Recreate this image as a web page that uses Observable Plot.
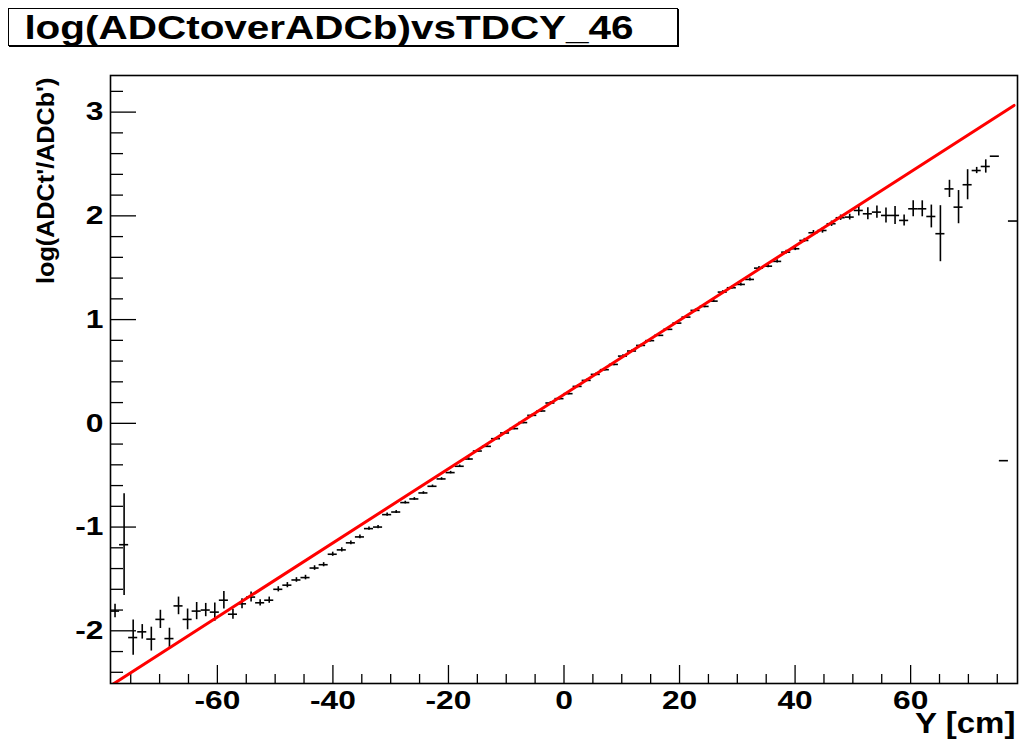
<!DOCTYPE html>
<html><head><meta charset="utf-8">
<script src="https://cdn.jsdelivr.net/npm/d3@7"></script>
<script src="https://cdn.jsdelivr.net/npm/@observablehq/plot@0.6"></script>
<style>
html,body{margin:0;padding:0;background:#fff;}
#head{position:relative;width:1021px;height:52px;}
#title{position:absolute;left:8px;top:8px;width:668px;height:36px;border:1px solid #000;box-shadow:1px 1px 0 #000;font-family:"Liberation Sans",Arial,sans-serif;font-weight:bold;font-size:34px;color:#000;overflow:hidden;}
#title span{position:absolute;left:320px;top:50%;transform:translate(-50%,-50%) scaleX(1.19);white-space:nowrap;line-height:1;}
#chart svg{display:block;}
</style></head><body>
<div id="head"><div id="title"><span id="titletext"></span></div></div>
<div id="chart"></div>
<script>
const titleText = "log(ADCtoverADCb)vsTDCY_46";
const xLabel = "Y [cm]";
const yLabel = "log(ADCt'/ADCb')";

// histogram binning: 100 bins from -78.5 to 78.5
const binLow = -78.5;
const binWidth = 1.57;

const values = [
  -1.81, -1.17, -2.065, -2.01, -2.08, -1.89, -2.075, -1.76, -1.89, -1.81,
  -1.80, -1.82, -1.705, -1.84, -1.74, -1.675, -1.73, -1.705, -1.60, -1.56,
  -1.51, -1.487, -1.395, -1.363, -1.262, -1.22, -1.152, -1.095, -1.015, -1.0,
  -0.88, -0.855, -0.764, -0.729, -0.671, -0.607, -0.536, -0.475, -0.414, -0.344,
  -0.267, -0.222, -0.148, -0.093, -0.051, 0.007, 0.077, 0.119, 0.196, 0.238,
  0.286, 0.356, 0.414, 0.472, 0.517, 0.568, 0.648, 0.697, 0.751, 0.797,
  0.848, 0.906, 0.966, 1.024, 1.089, 1.127, 1.178, 1.265, 1.307, 1.339,
  1.387, 1.496, 1.515, 1.561, 1.65, 1.683, 1.763, 1.837, 1.859, 1.924,
  1.982, 1.988, 2.052, 2.02, 2.036, 2.004, 2.004, 1.956, 2.068, 2.068,
  1.994, 1.828, 2.26, 2.084, 2.30, 2.437, 2.476, 2.575, -0.36, 1.95
];
const errors = [
  0.065, 0.49, 0.17, 0.07, 0.115, 0.088, 0.10, 0.085, 0.10, 0.083,
  0.064, 0.088, 0.085, 0.048, 0.048, 0.048, 0.03, 0.03, 0.025, 0.025,
  0.022, 0.022, 0.022, 0.02, 0.02, 0.02, 0.018, 0.018, 0.016, 0.016,
  0.015, 0.014, 0.013, 0.013, 0.012, 0.012, 0.012, 0.012, 0.012, 0.012,
  0.012, 0.012, 0.012, 0.012, 0.012, 0.012, 0.012, 0.012, 0.012, 0.012,
  0.012, 0.012, 0.012, 0.012, 0.012, 0.012, 0.012, 0.012, 0.012, 0.012,
  0.012, 0.012, 0.012, 0.013, 0.013, 0.013, 0.013, 0.014, 0.014, 0.014,
  0.015, 0.015, 0.016, 0.016, 0.018, 0.018, 0.02, 0.022, 0.026, 0.026,
  0.026, 0.028, 0.053, 0.058, 0.058, 0.072, 0.087, 0.053, 0.077, 0.077,
  0.11, 0.27, 0.083, 0.16, 0.145, 0.03, 0.064, 0.0, 0.0, 0.0
];

// linear fit p0 + p1*x over the fit range
const fitIntercept = 0.278;
const fitSlope = 0.03577;
const fitRange = [-78.5, 77.9];

const xDomain = [-78.5, 78.5];
const yDomain = [-2.508, 3.353];
const xMajorTicks = [-60, -40, -20, 0, 20, 40, 60];
const xMinorTicks = [-75, -70, -65, -55, -50, -45, -35, -30, -25, -15, -10, -5, 5, 10, 15, 25, 30, 35, 45, 50, 55, 65, 70, 75];
const yMajorTicks = [-2, -1, 0, 1, 2, 3];
const yMinorTicks = [-2.4, -2.2, -1.8, -1.6, -1.4, -1.2, -0.8, -0.6, -0.4, -0.2, 0.2, 0.4, 0.6, 0.8, 1.2, 1.4, 1.6, 1.8, 2.2, 2.4, 2.6, 2.8, 3.2];

document.getElementById("titletext").textContent = titleText;

const bins = values.map((v, i) => ({
  x: binLow + binWidth * (i + 0.5),
  xl: binLow + binWidth * i,
  xr: binLow + binWidth * (i + 1),
  v,
  lo: v - errors[i],
  hi: v + errors[i]
}));
const fitPts = fitRange.map(x => ({x, y: fitIntercept + fitSlope * x}));

const W = 1021, H = 693;
const mL = 110, mR = 4, mT = 23, mB = 62;
const fw = W - mL - mR, fh = H - mT - mB;

const chart = Plot.plot({
  width: W, height: H,
  marginLeft: mL, marginRight: mR, marginTop: mT, marginBottom: mB,
  x: {domain: xDomain, axis: null},
  y: {domain: yDomain, axis: null},
  style: {fontFamily: "'Liberation Sans', Arial, sans-serif", fontWeight: "bold", background: "white", color: "black"},
  marks: [
    Plot.ruleX(xMajorTicks, {x: d => d, insetTop: fh - 18, stroke: "black", strokeWidth: 1.3}),
    Plot.ruleX(xMinorTicks, {x: d => d, insetTop: fh - 9, stroke: "black", strokeWidth: 1.3}),
    Plot.ruleY(yMajorTicks, {y: d => d, insetRight: fw - 26, stroke: "black", strokeWidth: 1.3}),
    Plot.ruleY(yMinorTicks, {y: d => d, insetRight: fw - 13, stroke: "black", strokeWidth: 1.3}),
    Plot.axisX({ticks: xMajorTicks, tickSize: 0, tickPadding: 7, tickFormat: d => String(d), fontSize: 26, fontWeight: "bold", label: null}),
    Plot.axisY({ticks: yMajorTicks, tickSize: 0, tickPadding: 7, tickFormat: d => String(d), fontSize: 26, fontWeight: "bold", label: null}),
    Plot.ruleX(bins, {x: "x", y1: "lo", y2: "hi", stroke: "black", strokeWidth: 1.6}),
    Plot.ruleY(bins, {y: "v", x1: "xl", x2: "xr", stroke: "black", strokeWidth: 1.6}),
    Plot.line(fitPts, {x: "x", y: "y", stroke: "#ff0000", strokeWidth: 3, clip: true}),
    Plot.frame({stroke: "black", strokeWidth: 1.6}),
    Plot.text([yLabel], {frameAnchor: "top-left", rotate: -90, textAnchor: "end", dx: -74, dy: 2, fontSize: 24, fontWeight: "bold", fill: "black"}),
    Plot.text([xLabel], {frameAnchor: "bottom-right", textAnchor: "end", dx: -2, dy: 49, fontSize: 29, fontWeight: "bold", fill: "black"})
  ]
});
document.getElementById("chart").appendChild(chart);

// horizontally widen glyphs to match the reference rendering
chart.querySelectorAll("text").forEach(t => {
  const g = t.closest("g[aria-label]");
  const lab = g ? g.getAttribute("aria-label") : "";
  const f = lab.includes("tick label") ? 1.22 : (t.textContent === yLabel ? 1.05 : 1.14);
  const len = t.getComputedTextLength();
  if (len > 0) {
    t.setAttribute("textLength", (len * f).toFixed(1));
    t.setAttribute("lengthAdjust", "spacingAndGlyphs");
  }
});
</script>
</body></html>
